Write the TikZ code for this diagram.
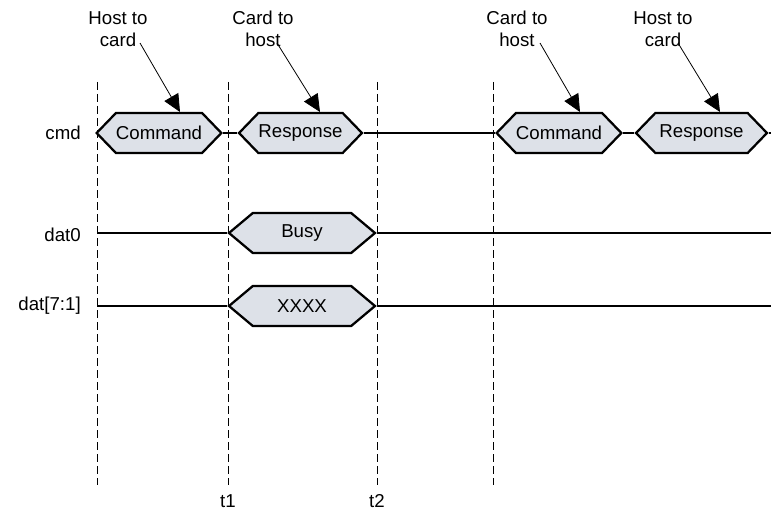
\documentclass[tikz,border=0pt]{standalone}
\usepackage{fontspec}
\setmainfont{Liberation Sans}
\usepackage{tikz}
\usetikzlibrary{arrows.meta, shapes.symbols, positioning, calc}
\definecolor{hexfill}{RGB}{221,225,232}
\tikzset{
  >=Stealth,
  phase/.style   = {draw, signal, signal to=west and east, signal pointer angle=92,
                    minimum height=30pt, inner sep=0pt, line width=1.7pt,
                    fill=hexfill, font=\fontsize{14}{16}\selectfont},
  wire/.style    = {line width=1.6pt},
  tick/.style    = {thin, dash pattern=on 6pt off 3pt},
  sig/.style     = {font=\fontsize{14}{16}\selectfont, anchor=east, inner sep=0pt},
  note/.style    = {font=\fontsize{14}{16.5}\selectfont, align=center, inner sep=0pt},
  ptr/.style     = {-{Triangle[length=13pt, width=12pt]}, semithick},
}

\begin{document}
\begin{tikzpicture}[x=0.75pt, y=-0.75pt]
  \useasboundingbox (0,0) rectangle (771,517);

  % time markers
  \foreach \n/\x in {a/97, b/228, c/377, d/493} {
    \coordinate (top\n) at (\x,82);
    \coordinate (bot\n) at (\x,485);
    \draw[tick] (top\n) -- (bot\n);
  }
  \node[sig, anchor=center] (t1) at (228,501) {t1};
  \node[sig, anchor=center] (t2) at (377,501) {t2};

  % signal names
  \node[sig] (cmd)   at (81,133) {cmd};
  \node[sig] (dat0)  at (81,235) {dat0};
  \node[sig] (dat71) at (81,306) {dat[7:1]};

  % phases
  \node[phase, minimum width=91.5pt]  (cmdA)  at (159,133)   {Command};
  \node[phase, minimum width=92.2pt]  (respA) at (300.5,133) {Response};
  \node[phase, minimum width=91.5pt]  (cmdB)  at (559,133)   {Command};
  \node[phase, minimum width=98.2pt]  (respB) at (701.5,133) {Response};
  \node[phase, minimum width=109.5pt, signal pointer angle=80] (busy) at (302,233) {Busy};
  \node[phase, minimum width=109.5pt, signal pointer angle=80] (xxxx) at (302,306) {XXXX};

  \coordinate (cmdE)  at (771,133);
  \coordinate (d0W)   at (97,233);
  \coordinate (d0E)   at (771,233);
  \coordinate (d71W)  at (97,306);
  \coordinate (d71E)  at (771,306);

  \draw[wire] (cmdA.east) -- (respA.west);
  \draw[wire] (respA.east) -- (cmdB.west);
  \draw[wire] (cmdB.east) -- (respB.west);
  \draw[wire] (respB.east) -- (cmdE);
  \draw[wire] (d0W) -- (busy.west);
  \draw[wire] (busy.east) -- (d0E);
  \draw[wire] (d71W) -- (xxxx.west);
  \draw[wire] (xxxx.east) -- (d71E);

  % direction notes
  \node[note] (n1) at (118,29) {Host to\\card};
  \node[note] (n2) at (263,29) {Card to\\host};
  \node[note] (n3) at (517,29) {Card to\\host};
  \node[note] (n4) at (663,29) {Host to\\card};

  \foreach \i/\xs/\xe in {1/140/180, 2/277/320, 3/540/580, 4/678/720} {
    \coordinate (s\i) at (\xs,43);
    \coordinate (e\i) at (\xe,112);
    \draw[ptr] (s\i) -- (e\i);
  }
\end{tikzpicture}
\end{document}
